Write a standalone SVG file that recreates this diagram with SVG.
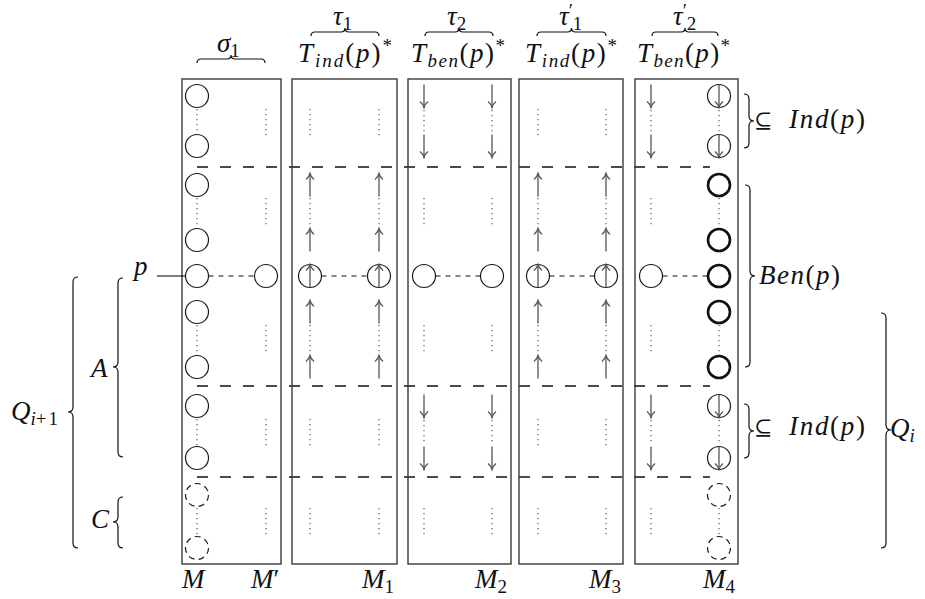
<svg xmlns="http://www.w3.org/2000/svg" xmlns:xlink="http://www.w3.org/1999/xlink" width="925" height="599" viewBox="0 0 925 599">
<style>
.m{font-family:"Liberation Serif","Times New Roman",serif;font-style:italic;font-size:27px;fill:#111}
.r{font-style:normal}
.s{font-size:19px}
.sym{font-family:"DejaVu Serif","Liberation Serif",serif;font-size:22px;fill:#111}
.box{fill:none;stroke:#3a3a3a;stroke-width:1.4}
.cir{fill:none;stroke:#1a1a1a;stroke-width:1.2}
.bcir{fill:none;stroke:#111;stroke-width:2.6}
.dcir{fill:none;stroke:#1a1a1a;stroke-width:1.2;stroke-dasharray:6 4.3}
.arr{fill:none;stroke:#555;stroke-width:1.3}
.dots{stroke:#666;stroke-width:1.3;stroke-dasharray:1.2 3.8;fill:none}
.hd{stroke:#111;stroke-width:1.3;stroke-dasharray:11 12;fill:none}
.pd{stroke:#111;stroke-width:1.1;stroke-dasharray:5 5;fill:none}
.br{fill:none;stroke:#111;stroke-width:1.2}
.ln{stroke:#111;stroke-width:1.1}
</style>
<defs>
<circle id="c" r="11.5" class="cir"/>
<circle id="bc" r="11" class="bcir"/>
<circle id="dc" r="11.5" class="dcir"/>
<g id="up" class="arr"><line x1="0" y1="11.5" x2="0" y2="-11.5"/><path d="M-4,-5.5 Q-1,-8 0,-11.5 Q1,-8 4,-5.5"/></g>
<g id="dn" class="arr"><line x1="0" y1="-11.5" x2="0" y2="11.5"/><path d="M-4,5.5 Q-1,8 0,11.5 Q1,8 4,5.5"/></g>
<g id="cu"><use xlink:href="#c"/><use xlink:href="#up"/></g>
<g id="cd"><use xlink:href="#c"/><use xlink:href="#dn"/></g>
</defs>

<!-- dashed section lines -->
<g id="sections">
<line class="hd" x1="197" y1="167" x2="710" y2="167"/>
<line class="hd" x1="197" y1="386" x2="710" y2="386"/>
<line class="hd" x1="197" y1="477" x2="710" y2="477"/>
</g>

<!-- box M / M' (sigma1) -->
<g id="box-M">
<rect class="box" x="182" y="79" width="99" height="485"/>
<use xlink:href="#c" x="197" y="96"/><use xlink:href="#c" x="197" y="146"/>
<use xlink:href="#c" x="197" y="185"/><use xlink:href="#c" x="197" y="240"/>
<use xlink:href="#c" x="197" y="276"/><use xlink:href="#c" x="197" y="312"/>
<use xlink:href="#c" x="197" y="367"/><use xlink:href="#c" x="197" y="406"/>
<use xlink:href="#c" x="197" y="458"/>
<use xlink:href="#dc" x="197" y="495"/><use xlink:href="#dc" x="197" y="548"/>
<use xlink:href="#c" x="266" y="276"/>
<path class="dots" d="M197,109V134 M197,198V228 M197,325V355 M197,419V446 M197,508V536 M266,109V137 M266,198V228 M266,325V355 M266,419V446 M266,508V536"/>
</g>

<!-- box M1 (tau1) -->
<g id="box-M1">
<rect class="box" x="292" y="79" width="105" height="485"/>
<use xlink:href="#up" x="310" y="185"/><use xlink:href="#up" x="310" y="240"/>
<use xlink:href="#cu" x="310" y="276"/>
<use xlink:href="#up" x="310" y="312"/><use xlink:href="#up" x="310" y="367"/>
<use xlink:href="#up" x="379" y="185"/><use xlink:href="#up" x="379" y="240"/>
<use xlink:href="#cu" x="379" y="276"/>
<use xlink:href="#up" x="379" y="312"/><use xlink:href="#up" x="379" y="367"/>
<path class="dots" d="M310,109V137 M310,198V228 M310,325V355 M310,419V446 M310,508V536 M379,109V137 M379,198V228 M379,325V355 M379,419V446 M379,508V536"/>
</g>

<!-- box M2 (tau2) -->
<g id="box-M2">
<rect class="box" x="408" y="79" width="103" height="485"/>
<use xlink:href="#dn" x="424" y="96"/><use xlink:href="#dn" x="424" y="146"/>
<use xlink:href="#dn" x="492" y="96"/><use xlink:href="#dn" x="492" y="146"/>
<use xlink:href="#c" x="424" y="276"/><use xlink:href="#c" x="492" y="276"/>
<use xlink:href="#dn" x="424" y="406"/><use xlink:href="#dn" x="424" y="458"/>
<use xlink:href="#dn" x="492" y="406"/><use xlink:href="#dn" x="492" y="458"/>
<path class="dots" d="M424,110V134 M424,198V228 M424,325V355 M424,420V445 M424,508V536 M492,110V134 M492,198V228 M492,325V355 M492,420V445 M492,508V536"/>
</g>

<!-- box M3 (tau1') -->
<g id="box-M3">
<rect class="box" x="519" y="79" width="104" height="485"/>
<use xlink:href="#up" x="538" y="185"/><use xlink:href="#up" x="538" y="240"/>
<use xlink:href="#cu" x="538" y="276"/>
<use xlink:href="#up" x="538" y="312"/><use xlink:href="#up" x="538" y="367"/>
<use xlink:href="#up" x="606" y="185"/><use xlink:href="#up" x="606" y="240"/>
<use xlink:href="#cu" x="606" y="276"/>
<use xlink:href="#up" x="606" y="312"/><use xlink:href="#up" x="606" y="367"/>
<path class="dots" d="M538,109V137 M538,198V228 M538,325V355 M538,419V446 M538,508V536 M606,109V137 M606,198V228 M606,325V355 M606,419V446 M606,508V536"/>
</g>

<!-- box M4 (tau2') -->
<g id="box-M4">
<rect class="box" x="635" y="79" width="103" height="485"/>
<use xlink:href="#dn" x="651" y="96"/><use xlink:href="#dn" x="651" y="146"/>
<use xlink:href="#c" x="651" y="276"/>
<use xlink:href="#dn" x="651" y="406"/><use xlink:href="#dn" x="651" y="458"/>
<use xlink:href="#cd" x="719" y="96"/><use xlink:href="#cd" x="719" y="146"/>
<use xlink:href="#bc" x="719" y="185"/><use xlink:href="#bc" x="719" y="240"/>
<use xlink:href="#bc" x="719" y="276"/><use xlink:href="#bc" x="719" y="312"/>
<use xlink:href="#bc" x="719" y="367"/>
<use xlink:href="#cd" x="719" y="406"/><use xlink:href="#cd" x="719" y="458"/>
<use xlink:href="#dc" x="719" y="495"/><use xlink:href="#dc" x="719" y="548"/>
<path class="dots" d="M651,110V134 M651,198V228 M651,325V355 M651,420V445 M651,508V536 M719,110V134 M719,198V228 M719,325V355 M719,420V445 M719,508V536"/>
</g>

<!-- connectors -->
<g id="connectors">
<line class="ln" x1="157" y1="276" x2="185.5" y2="276"/>
<line class="pd" x1="208.5" y1="276" x2="254.5" y2="276"/>
<line class="pd" x1="321.5" y1="276" x2="367.5" y2="276"/>
<line class="pd" x1="435.5" y1="276" x2="480.5" y2="276"/>
<line class="pd" x1="549.5" y1="276" x2="594.5" y2="276"/>
<line class="pd" x1="662.5" y1="276" x2="708" y2="276"/>
</g>

<!-- braces -->
<g id="braces">
<path class="br" d="M197,63 Q197,59 201,59 L227,59 Q231,59 231,55 Q231,59 235,59 L261,59 Q265,59 265,63"/>
<path class="br" d="M311,36 Q311,32 315,32 L341,32 Q345,32 345,28 Q345,32 349,32 L375,32 Q379,32 379,36"/>
<path class="br" d="M425,36 Q425,32 429,32 L455,32 Q459,32 459,28 Q459,32 463,32 L489,32 Q493,32 493,36"/>
<path class="br" d="M537,36 Q537,32 541,32 L567.5,32 Q571.5,32 571.5,28 Q571.5,32 575.5,32 L602,32 Q606,32 606,36"/>
<path class="br" d="M652,36 Q652,32 656,32 L681,32 Q685,32 685,28 Q685,32 689,32 L714,32 Q718,32 718,36"/>
<path class="br" d="M744,94 Q749,94 749,99 L749,116 Q749,121 754,121 Q749,121 749,126 L749,143 Q749,148 744,148"/>
<path class="br" d="M745,185 Q750,185 750,190 L750,271 Q750,276 755,276 Q750,276 750,281 L750,362 Q750,367 745,367"/>
<path class="br" d="M744,404 Q749,404 749,409 L749,426 Q749,431 754,431 Q749,431 749,436 L749,453 Q749,458 744,458"/>
<path class="br" d="M881,313 Q886,313 886,318 L886,425 Q886,430 891,430 Q886,430 886,435 L886,543 Q886,548 881,548"/>
<path class="br" d="M78,277 Q73,277 73,282 L73,407 Q73,412 68,412 Q73,412 73,417 L73,543 Q73,548 78,548"/>
<path class="br" d="M123,278 Q118,278 118,283 L118,362 Q118,367 113,367 Q118,367 118,372 L118,452 Q118,457 123,457"/>
<path class="br" d="M123,497 Q118,497 118,502 L118,517 Q118,522 113,522 Q118,522 118,527 L118,543 Q118,548 123,548"/>
</g>

<!-- labels -->
<g id="labels">
<text class="m" x="217" y="52">σ<tspan class="s r" dy="5">1</tspan></text>
<text class="m" x="333" y="25">τ<tspan class="s r" dy="5">1</tspan></text>
<text class="m" x="447" y="25">τ<tspan class="s r" dy="5">2</tspan></text>
<text class="m" x="559" y="25">τ<tspan class="s r" dy="-8">′</tspan><tspan class="s r" dy="13">1</tspan></text>
<text class="m" x="673" y="25">τ<tspan class="s r" dy="-8">′</tspan><tspan class="s r" dy="13">2</tspan></text>
<text class="m" x="298" y="62" textLength="94" lengthAdjust="spacing">T<tspan class="s" dy="5">ind</tspan><tspan class="r" dy="-5">(</tspan>p<tspan class="r">)</tspan><tspan class="s r" dy="-10">*</tspan></text>
<text class="m" x="411" y="62" textLength="94" lengthAdjust="spacing">T<tspan class="s" dy="5">ben</tspan><tspan class="r" dy="-5">(</tspan>p<tspan class="r">)</tspan><tspan class="s r" dy="-10">*</tspan></text>
<text class="m" x="525" y="62" textLength="92" lengthAdjust="spacing">T<tspan class="s" dy="5">ind</tspan><tspan class="r" dy="-5">(</tspan>p<tspan class="r">)</tspan><tspan class="s r" dy="-10">*</tspan></text>
<text class="m" x="637" y="62" textLength="93" lengthAdjust="spacing">T<tspan class="s" dy="5">ben</tspan><tspan class="r" dy="-5">(</tspan>p<tspan class="r">)</tspan><tspan class="s r" dy="-10">*</tspan></text>
<text class="sym" x="754" y="128">⊆</text>
<text class="m" x="789" y="128" textLength="76" lengthAdjust="spacing">Ind<tspan class="r">(</tspan>p<tspan class="r">)</tspan></text>
<text class="m" x="759" y="284" textLength="81" lengthAdjust="spacing">Ben<tspan class="r">(</tspan>p<tspan class="r">)</tspan></text>
<text class="sym" x="754" y="435">⊆</text>
<text class="m" x="789" y="435" textLength="76" lengthAdjust="spacing">Ind<tspan class="r">(</tspan>p<tspan class="r">)</tspan></text>
<text class="m" x="890" y="437">Q<tspan class="s" dy="5">i</tspan></text>
<text class="m" x="11" y="420">Q<tspan class="s" dy="5">i</tspan><tspan class="s r" letter-spacing="2">+1</tspan></text>
<text class="m" x="91" y="377">A</text>
<text class="m" x="91" y="528">C</text>
<text class="m" x="134" y="275">p</text>
<text class="m" x="182" y="588">M</text>
<text class="m" x="251" y="588">M<tspan class="r">′</tspan></text>
<text class="m" x="362" y="588">M<tspan class="s r" dy="5">1</tspan></text>
<text class="m" x="475" y="588">M<tspan class="s r" dy="5">2</tspan></text>
<text class="m" x="589" y="588">M<tspan class="s r" dy="5">3</tspan></text>
<text class="m" x="703" y="588">M<tspan class="s r" dy="5">4</tspan></text>
</g>
</svg>
